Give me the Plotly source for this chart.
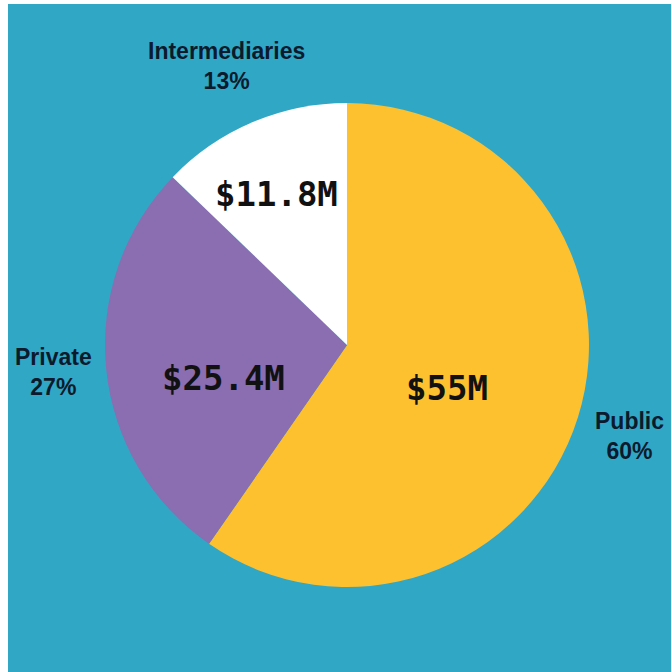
import plotly.graph_objects as go

categories = ["Public", "Private", "Intermediaries"]
amounts = [55, 25.4, 11.8]
amount_labels = ["$55M", "$25.4M", "$11.8M"]
percent_labels = ["60%", "27%", "13%"]
colors = ["#FDC130", "#8B6DB1", "#FFFFFF"]

fig = go.Figure(go.Pie(
    labels=categories,
    values=amounts,
    textinfo="none",
    sort=False,
    direction="clockwise",
    rotation=0,
    marker=dict(colors=colors, line=dict(width=0)),
    showlegend=False,
    hoverinfo="label+value+percent",
    domain=dict(x=[0.1463, 0.8763], y=[0.1272, 0.8518]),
))

# label anchor positions (paper coords)
amount_pos = {"Public": (0.6621, 0.4251), "Private": (0.3243, 0.4401), "Intermediaries": (0.4057, 0.7156)}
label_pos = {"Public": (0.938, 0.353), "Private": (0.0679, 0.449), "Intermediaries": (0.329, 0.907)}

annotations = []
for cat, amt in zip(categories, amount_labels):
    x, y = amount_pos[cat]
    annotations.append(dict(
        x=x, y=y, xref="paper", yref="paper", showarrow=False,
        xanchor="center", yanchor="middle", text=amt,
        font=dict(family="DejaVu Sans Mono", size=34, color="#111111", weight="bold"),
    ))
for cat, pct in zip(categories, percent_labels):
    x, y = label_pos[cat]
    annotations.append(dict(
        x=x, y=y, xref="paper", yref="paper", showarrow=False,
        xanchor="center", yanchor="middle",
        text=f"{cat}<br>{pct}", align="center",
        font=dict(family="Liberation Sans", size=23, color="#0B1A2C", weight="bold"),
    ))

fig.update_layout(
    width=671, height=672,
    margin=dict(l=8, t=4, r=0, b=0),
    paper_bgcolor="#FFFFFF",
    shapes=[dict(type="rect", xref="paper", yref="paper", x0=0, x1=1, y0=0, y1=1,
                 fillcolor="#31A7C6", line=dict(width=0), layer="below")],
    annotations=annotations,
)

fig.write_html("out.html", config={"displayModeBar": False},
               post_script="document.body.style.margin='0';")
